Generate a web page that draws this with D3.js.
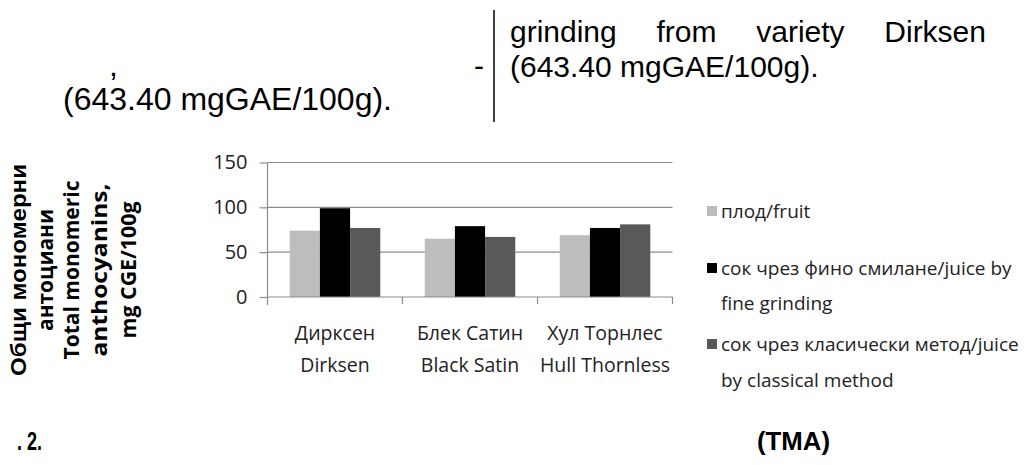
<!DOCTYPE html>
<html>
<head>
<meta charset="utf-8">
<script src="https://cdn.jsdelivr.net/npm/d3@7"></script>
<style>
  html, body { margin: 0; padding: 0; background: #fff; }
  svg { display: block; }
</style>
</head>
<body>
<svg id="chart" width="1024" height="465"></svg>
<script>
// Varieties (two-line labels: Bulgarian / English)
const categories = ["Dirksen", "Black Satin", "Hull Thornless"];
const categoryLabels = [
  ["Дирксен", "Dirksen"],
  ["Блек Сатин", "Black Satin"],
  ["Хул Торнлес", "Hull Thornless"]
];

// Total monomeric anthocyanins, mg CGE/100g
const fruit = [74, 65, 69];
const juiceFine = [99, 79, 77];
const juiceClassical = [77, 67, 81];

const seriesKeys = ["fruit", "juiceFine", "juiceClassical"];
const seriesLabels = [
  ["плод/fruit"],
  ["сок чрез фино смилане/juice  by", "fine grinding"],
  ["сок чрез класически метод/juice", "by classical method"]
];
const seriesColors = ["#bdbdbd", "#000000", "#595959"];

const yTicks = [0, 50, 100, 150];
const yTitle = ["Общи мономерни", "антоциани", "Total monomeric", "anthocyanins,", "mg CGE/100g"];

const table = categories.map((c, i) => ({
  category: c,
  fruit: fruit[i],
  juiceFine: juiceFine[i],
  juiceClassical: juiceClassical[i]
}));

const svg = d3.select("#chart");
const sans = "'Liberation Sans', Arial, sans-serif";
const ui = "'Open Sans', 'Noto Sans', sans-serif";

// ---- surrounding paragraph text ----
const para = svg.append("g").attr("font-family", sans).attr("font-size", 30).attr("fill", "#000");
para.append("text").attr("x", 109).attr("y", 76).attr("font-size", 32).text(",");
para.append("text").attr("x", 63).attr("y", 110).attr("font-size", 32)
  .attr("textLength", 329).attr("lengthAdjust", "spacingAndGlyphs").text("(643.40 mgGAE/100g).");
para.append("text").attr("x", 474).attr("y", 76).text("-");
para.append("line").attr("x1", 494).attr("x2", 494).attr("y1", 10).attr("y2", 122)
  .attr("stroke", "#000").attr("stroke-width", 1.5);

// justified line in the right column
const words = ["grinding", "from", "variety", "Dirksen"];
const lineStart = 510, lineEnd = 986;
const wordNodes = words.map(w => para.append("text").attr("y", 42).text(w));
const widths = wordNodes.map(n => n.node().getComputedTextLength());
const gap = (lineEnd - lineStart - d3.sum(widths)) / (words.length - 1);
let cx = lineStart;
wordNodes.forEach((n, i) => { n.attr("x", cx); cx += widths[i] + gap; });
para.append("text").attr("x", 510).attr("y", 77).text("(643.40 mgGAE/100g).");

// ---- chart ----
const x0 = 267.5, x1 = 672.5, yBottom = 297, yTop = 162.5;

const x = d3.scaleBand().domain(categories).range([x0, x1]).paddingInner(0).paddingOuter(0);
const xs = d3.scaleBand().domain(seriesKeys).range([0, x.bandwidth()]).paddingInner(0).paddingOuter(0.737);
const y = d3.scaleLinear().domain([0, 150]).range([yBottom, yTop]);
const color = d3.scaleOrdinal().domain(seriesKeys).range(seriesColors);

// gridlines
svg.append("g").selectAll("line").data(yTicks.filter(v => v > 0)).join("line")
  .attr("x1", x0).attr("x2", x1)
  .attr("y1", d => y(d)).attr("y2", d => y(d))
  .attr("stroke", "#8c8c8c").attr("stroke-width", 1.2);

// bars
svg.append("g").selectAll("g").data(table).join("g")
  .attr("transform", d => `translate(${x(d.category)},0)`)
  .selectAll("rect")
  .data(d => seriesKeys.map(k => ({ key: k, value: d[k] })))
  .join("rect")
  .attr("x", d => xs(d.key))
  .attr("width", xs.bandwidth())
  .attr("y", d => y(d.value))
  .attr("height", d => y(0) - y(d.value))
  .attr("fill", d => color(d.key));

// y axis
const yAxis = svg.append("g").attr("transform", `translate(${x0},0)`)
  .call(d3.axisLeft(y).tickValues(yTicks).tickSize(8).tickPadding(12));
yAxis.select(".domain").attr("stroke", "#8c8c8c").attr("stroke-width", 1.2)
  .attr("d", `M0,${yTop}V${yBottom + 8}`);
yAxis.selectAll(".tick line").attr("stroke", "#8c8c8c").attr("stroke-width", 1.2);
yAxis.selectAll(".tick text").attr("font-family", ui).attr("font-size", 20).attr("fill", "#222");

// x axis with boundary ticks
const xAxis = svg.append("g");
xAxis.append("line").attr("x1", x0).attr("x2", x1).attr("y1", yBottom).attr("y2", yBottom)
  .attr("stroke", "#8c8c8c").attr("stroke-width", 1.2);
const bounds = categories.map(c => x(c) + x.bandwidth());
xAxis.selectAll("line.tk").data(bounds).join("line").attr("class", "tk")
  .attr("x1", d => d).attr("x2", d => d).attr("y1", yBottom).attr("y2", yBottom + 7)
  .attr("stroke", "#8c8c8c").attr("stroke-width", 1.2);

// category labels
const catG = svg.append("g").attr("font-family", ui).attr("font-size", 19.5).attr("fill", "#222")
  .attr("text-anchor", "middle");
categories.forEach((c, i) => {
  categoryLabels[i].forEach((t, j) => {
    catG.append("text").attr("x", x(c) + x.bandwidth() / 2).attr("y", 340 + j * 32).text(t);
  });
});

// y-axis title
const titleX = [18, 44, 70, 98, 127];
const titleLen = [212, 122, 179, 173, 137];
yTitle.forEach((t, i) => {
  svg.append("text")
    .attr("transform", `translate(${titleX[i]},270) rotate(-90)`)
    .attr("text-anchor", "middle").attr("dominant-baseline", "central")
    .attr("font-family", i === 0 ? sans : ui)
    .attr("font-weight", "bold").attr("font-size", 22).attr("fill", "#000")
    .attr("textLength", titleLen[i]).attr("lengthAdjust", "spacingAndGlyphs")
    .text(t);
});

// legend
const legendY = [[211], [268, 303], [344, 380]];
const lg = svg.append("g").attr("font-family", ui).attr("font-size", 19).attr("fill", "#222");
seriesKeys.forEach((k, i) => {
  lg.append("rect").attr("x", 707).attr("y", legendY[i][0] - 5).attr("width", 10).attr("height", 10)
    .attr("fill", color(k));
  seriesLabels[i].forEach((t, j) => {
    lg.append("text").attr("x", 721).attr("y", legendY[i][j]).attr("dominant-baseline", "central").text(t);
  });
});

// caption
const cap = svg.append("g").attr("font-family", sans)
  .attr("font-weight", "bold").attr("font-size", 25).attr("fill", "#000");
cap.append("text").attr("x", 17).attr("y", 450)
  .attr("textLength", 25).attr("lengthAdjust", "spacingAndGlyphs").text(". 2.");
cap.append("text").attr("x", 757).attr("y", 450)
  .attr("textLength", 73).attr("lengthAdjust", "spacingAndGlyphs").text("(TMA)");
</script>
</body>
</html>
